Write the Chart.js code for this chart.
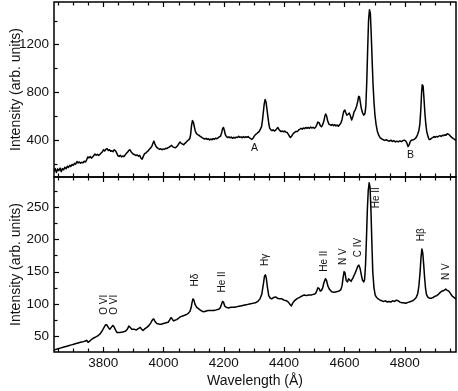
<!DOCTYPE html>
<html>
<head>
<meta charset="utf-8">
<script src="https://cdn.jsdelivr.net/npm/chart.js@4/dist/chart.umd.min.js"></script>
<style>
  html, body { margin: 0; padding: 0; background: #fff; }
  canvas { display: block; }
</style>
</head>
<body>
<canvas id="spectrum-chart" width="458" height="391"></canvas>
<script>
// Tick labels
const waveTicks = [3800, 4000, 4200, 4400, 4600, 4800];
const topTicks = [400, 800, 1200];
const bottomTicks = [50, 100, 150, 200, 250];

// Upper panel spectrum (wavelength in Å, intensity)
const topWave = [
  3637, 3641, 3645, 3649, 3653, 3657, 3661, 3665, 3669, 3673, 3677, 3681, 3685, 3689, 3693, 3697,
  3701, 3705, 3709, 3713, 3717, 3721, 3725, 3729, 3733, 3737, 3741, 3745, 3749, 3753, 3757, 3761,
  3765, 3769, 3773, 3777, 3781, 3785, 3789, 3793, 3797, 3801, 3805, 3809, 3813, 3817, 3821, 3825,
  3829, 3833, 3837, 3841, 3845, 3849, 3853, 3857, 3861, 3865, 3869, 3873, 3877, 3881, 3885, 3889,
  3893, 3897, 3901, 3905, 3909, 3913, 3917, 3921, 3925, 3929, 3933, 3937, 3941, 3945, 3949, 3953,
  3957, 3961, 3965, 3968, 3971, 3975, 3979, 3983, 3987, 3991, 3995, 3999, 4003, 4007, 4011, 4015,
  4019, 4023, 4027, 4031, 4035, 4039, 4043, 4047, 4051, 4055, 4059, 4063, 4067, 4071, 4075, 4079,
  4083, 4087, 4090, 4093, 4096, 4099, 4102, 4105, 4109, 4113, 4117, 4121, 4125, 4129, 4133, 4137,
  4141, 4145, 4149, 4153, 4157, 4161, 4165, 4169, 4173, 4177, 4181, 4185, 4189, 4193, 4196, 4199,
  4202, 4205, 4209, 4213, 4217, 4221, 4225, 4229, 4233, 4237, 4241, 4245, 4249, 4253, 4257, 4261,
  4265, 4269, 4273, 4277, 4281, 4285, 4289, 4293, 4297, 4301, 4305, 4309, 4313, 4317, 4321, 4325,
  4328, 4331, 4334, 4337, 4340, 4343, 4346, 4349, 4352, 4356, 4360, 4364, 4368, 4372, 4376, 4379,
  4382, 4386, 4390, 4394, 4398, 4402, 4406, 4410, 4414, 4418, 4421, 4424, 4428, 4432, 4436, 4440,
  4444, 4448, 4452, 4456, 4460, 4464, 4468, 4472, 4476, 4480, 4484, 4488, 4492, 4496, 4500, 4504,
  4508, 4512, 4516, 4520, 4524, 4528, 4532, 4535, 4538, 4541, 4544, 4548, 4552, 4556, 4560, 4564,
  4568, 4572, 4576, 4580, 4584, 4588, 4592, 4595, 4598, 4601, 4604, 4608, 4612, 4616, 4620, 4624,
  4628, 4632, 4636, 4640, 4644, 4647, 4650, 4653, 4656, 4660, 4664, 4668, 4671, 4674, 4677, 4680,
  4683, 4686, 4689, 4692, 4695, 4698, 4701, 4705, 4709, 4714, 4719, 4724, 4729, 4734, 4739, 4744,
  4749, 4754, 4759, 4764, 4769, 4774, 4779, 4784, 4789, 4794, 4799, 4803, 4807, 4811, 4815, 4819,
  4823, 4827, 4831, 4835, 4839, 4843, 4847, 4850, 4853, 4856, 4858, 4861, 4864, 4867, 4870, 4873,
  4877, 4881, 4885, 4889, 4893, 4897, 4901, 4905, 4909, 4913, 4917, 4921, 4925, 4929, 4933, 4937,
  4941, 4945, 4949, 4953, 4957, 4961, 4965, 4969
];
const topFlux = [
  138, 160, 128, 158, 142, 165, 135, 160, 150, 172, 158, 180, 170, 188, 178, 195,
  188, 205, 198, 220, 208, 216, 205, 214, 208, 222, 215, 232, 258, 250, 262, 248,
  258, 270, 282, 272, 280, 270, 278, 290, 300, 318, 308, 322, 328, 312, 318, 305,
  310, 302, 318, 310, 290, 268, 262, 272, 258, 266, 260, 275, 288, 298, 312, 318,
  300, 288, 280, 276, 270, 275, 264, 272, 250, 238, 262, 285, 290, 300, 308, 322,
  332, 345, 372, 392, 370, 348, 335, 328, 322, 326, 318, 325, 322, 330, 328, 335,
  340, 348, 355, 342, 338, 334, 342, 352, 370, 382, 372, 365, 360, 372, 380, 392,
  400, 410, 445, 520, 562, 550, 515, 480, 455, 445, 440, 432, 425, 418, 412, 408,
  414, 405, 410, 400, 408, 402, 412, 406, 415, 410, 418, 425, 432, 460, 495, 505,
  480, 445, 428, 420, 426, 418, 424, 414, 422, 416, 424, 420, 430, 422, 426, 418,
  428, 420, 427, 422, 428, 418, 412, 404, 415, 432, 445, 452, 462, 470, 488, 510,
  560, 630, 700, 738, 720, 660, 600, 540, 500, 485, 478, 485, 475, 482, 495, 505,
  492, 478, 470, 475, 468, 474, 466, 462, 448, 430, 420, 428, 445, 458, 466, 472,
  470, 482, 490, 498, 490, 500, 495, 505, 498, 505, 498, 508, 500, 506, 498, 505,
  525, 550, 545, 520, 510, 528, 560, 598, 618, 600, 565, 535, 528, 522, 530, 520,
  528, 518, 525, 515, 528, 540, 570, 610, 640, 652, 632, 608, 615, 625, 600, 568,
  595, 635, 652, 680, 720, 765, 760, 712, 665, 628, 608, 620, 680, 880, 1150, 1400,
  1490, 1460, 1280, 1060, 860, 720, 615, 530, 475, 438, 418, 408, 402, 396, 402, 394,
  390, 398, 388, 394, 384, 390, 385, 392, 386, 395, 398, 392, 375, 345, 362, 390,
  398, 400, 405, 412, 425, 448, 480, 530, 640, 800, 862, 850, 740, 620, 530, 470,
  430, 404, 405, 415, 420, 428, 422, 430, 425, 432, 436, 430, 440, 436, 444, 440,
  452, 448, 440, 428, 420, 412, 405, 398
];

// Lower panel spectrum
const bottomWave = [
  3637, 3650, 3665, 3680, 3695, 3710, 3724, 3735, 3741, 3745, 3750, 3756, 3763, 3770, 3779, 3785,
  3790, 3797, 3803, 3808, 3812, 3817, 3822, 3827, 3832, 3836, 3841, 3846, 3855, 3865, 3874, 3880,
  3885, 3890, 3895, 3903, 3910, 3916, 3923, 3928, 3932, 3938, 3945, 3952, 3958, 3964, 3968, 3972,
  3978, 3986, 3994, 4000, 4008, 4016, 4020, 4025, 4029, 4033, 4038, 4044, 4050, 4055, 4060, 4066,
  4072, 4077, 4083, 4088, 4092, 4095, 4098, 4101, 4105, 4110, 4116, 4124, 4132, 4140, 4149, 4158,
  4166, 4175, 4183, 4188, 4192, 4196, 4199, 4203, 4208, 4216, 4225, 4235, 4245, 4255, 4265, 4275,
  4285, 4295, 4305, 4313, 4320, 4326, 4331, 4335, 4338, 4341, 4345, 4349, 4354, 4359, 4365, 4372,
  4378, 4384, 4392, 4400, 4408, 4414, 4420, 4424, 4428, 4434, 4442, 4450, 4458, 4466, 4474, 4482,
  4490, 4498, 4504, 4508, 4512, 4516, 4520, 4524, 4528, 4532, 4537, 4541, 4545, 4550, 4558, 4566,
  4574, 4582, 4588, 4592, 4596, 4599, 4602, 4606, 4610, 4614, 4618, 4622, 4628, 4634, 4640, 4645,
  4648, 4652, 4656, 4660, 4664, 4667, 4670, 4673, 4676, 4679, 4682, 4685, 4688, 4691, 4694, 4698,
  4702, 4707, 4712, 4718, 4724, 4730, 4736, 4742, 4748, 4754, 4760, 4766, 4772, 4778, 4784, 4790,
  4796, 4802, 4808, 4814, 4820, 4826, 4832, 4838, 4843, 4847, 4851, 4854, 4857, 4860, 4863, 4866,
  4869, 4872, 4876, 4882, 4888, 4894, 4900, 4906, 4912, 4918, 4924, 4930, 4936, 4941, 4946, 4952,
  4958, 4964, 4969
];
const bottomFlux = [
  29, 31, 33, 35, 37, 39, 41, 42, 43, 44, 41, 43, 46, 48, 50, 52,
  54, 59, 64, 68, 68, 64, 61, 64, 67, 65, 60, 56, 56, 57, 58, 61,
  66, 64, 61, 61, 60, 62, 64, 61, 59, 62, 64, 67, 71, 76, 77, 73,
  70, 69, 69, 70, 71, 72, 75, 79, 77, 74, 75, 76, 78, 80, 81, 82,
  83, 84, 86, 89, 95, 103, 108, 106, 99, 95, 93, 90, 88, 89, 90, 90,
  90, 91, 92, 94, 99, 104, 103, 97, 95, 94, 95, 95, 96, 97, 98, 99,
  100, 101, 102, 104, 108, 115, 130, 143, 145, 140, 125, 113, 109, 108, 110, 111,
  109, 108, 108, 106, 105, 103, 99, 97, 101, 105, 108, 110, 112, 114, 113, 114,
  114, 115, 116, 120, 125, 124, 120, 121, 125, 133, 139, 136, 128, 123, 119, 118,
  119, 120, 122, 128, 142, 150, 148, 136, 134, 139, 137, 135, 140, 146, 153, 159,
  160, 155, 145, 137, 134, 138, 160, 200, 245, 275, 287, 280, 245, 195, 150, 125,
  114, 110, 108, 106, 105, 104, 105, 103, 104, 103, 105, 104, 106, 105, 103, 102,
  102, 101, 102, 103, 104, 105, 107, 110, 116, 128, 150, 172, 185, 178, 160, 140,
  124, 115, 111, 109, 109, 110, 112, 113, 115, 118, 120, 121, 123, 121, 120, 116,
  112, 110, 108
];

// Line identifications in the lower panel (label, wavelength, intensity level of label centre)
const lineNames = ['O VI', 'O VI', 'Hδ', 'He II', 'Hγ', 'He II', 'N V', 'C IV', 'He II', 'Hβ', 'N V'];
const lineWave = [3802, 3838, 4104, 4196, 4339, 4534, 4595, 4645, 4705, 4855, 4938];
const lineLevel = [99, 99, 137, 134, 168, 166, 173, 187, 264, 207, 150];

// Markers in the upper panel
const markNames = ['A', 'B'];
const markWave = [4302, 4819];
const markLevel = [331, 275];

const FONT = "'Liberation Sans', Arial, Helvetica, sans-serif";
const INK = '#111';

// Frames and inward ticks for both panels, plus the text labels
const panelDecor = {
  id: 'panelDecor',
  afterDatasetsDraw(chart) {
    const { ctx, chartArea, scales } = chart;
    const x = scales.x;
    const left = chartArea.left;
    const right = chartArea.right;

    function seg(x1, y1, x2, y2) {
      ctx.beginPath();
      ctx.moveTo(x1, y1);
      ctx.lineTo(x2, y2);
      ctx.stroke();
    }

    ctx.save();
    ctx.strokeStyle = '#000';
    ctx.lineWidth = 1.2;

    const panels = [
      { y: scales.yTop, step: 200, major: 400 },
      { y: scales.yBot, step: 25, major: 50 }
    ];
    panels.forEach(p => {
      const y = p.y;
      for (let w = 3650; w < x.max; w += 50) {
        const px = Math.round(x.getPixelForValue(w)) + 0.5;
        const len = w % 200 === 0 ? 5 : 3.5;
        seg(px, y.top, px, y.top + len);
        seg(px, y.bottom, px, y.bottom - len);
      }
      for (let v = Math.ceil(y.min / p.step) * p.step; v < y.max; v += p.step) {
        if (v <= y.min) continue;
        const py = Math.round(y.getPixelForValue(v)) + 0.5;
        const len = v % p.major === 0 ? 5 : 3.5;
        seg(left, py, left + len, py);
      }
    });

    ctx.lineWidth = 1.5;
    panels.forEach(p => {
      ctx.strokeRect(left, p.y.top, right - left, p.y.bottom - p.y.top);
    });

    // rotated line identifications
    ctx.fillStyle = INK;
    ctx.font = '10px ' + FONT;
    ctx.textAlign = 'center';
    ctx.textBaseline = 'middle';
    lineNames.forEach((name, i) => {
      const px = x.getPixelForValue(lineWave[i]);
      const py = scales.yBot.getPixelForValue(lineLevel[i]);
      ctx.save();
      ctx.translate(px, py);
      ctx.rotate(-Math.PI / 2);
      ctx.fillText(name, 0, 0);
      ctx.restore();
    });

    ctx.font = '10.5px ' + FONT;
    markNames.forEach((name, i) => {
      ctx.fillText(name, x.getPixelForValue(markWave[i]), scales.yTop.getPixelForValue(markLevel[i]));
    });
    ctx.restore();
  }
};

function toPoints(xs, ys) {
  return xs.map((v, i) => ({ x: v, y: ys[i] }));
}

function fixedTicks(values) {
  return function(axis) {
    axis.ticks = values.map(v => ({ value: v }));
  };
}

const tickFont = { family: FONT, size: 13.5 };
const titleFont = { family: FONT, size: 14 };

const yCommon = {
  type: 'linear',
  position: 'left',
  stack: 'panels',
  stackWeight: 1,
  grid: { display: false, drawTicks: false },
  border: { display: false },
  afterFit(axis) {
    axis.width = 54;
    axis.paddingTop = 0;
    axis.paddingBottom = 0;
  }
};

// tiny tension keeps the segments straight but avoids the pixel-column fast path
const lineStyle = {
  borderColor: '#000',
  borderWidth: 1.5,
  borderJoinStyle: 'round',
  borderCapStyle: 'round',
  pointRadius: 0,
  tension: 0.0001
};

new Chart(document.getElementById('spectrum-chart'), {
  type: 'line',
  data: {
    datasets: [
      Object.assign({ data: toPoints(bottomWave, bottomFlux), yAxisID: 'yBot' }, lineStyle),
      Object.assign({ data: toPoints(topWave, topFlux), yAxisID: 'yTop' }, lineStyle)
    ]
  },
  options: {
    responsive: false,
    animation: false,
    events: [],
    layout: { padding: { top: 2, right: 2, left: 0, bottom: 0 } },
    plugins: {
      legend: { display: false },
      tooltip: { enabled: false }
    },
    scales: {
      x: {
        type: 'linear',
        min: 3637,
        max: 4970,
        grid: { display: false, drawTicks: false },
        border: { display: false },
        afterBuildTicks: fixedTicks(waveTicks),
        afterFit(axis) {
          axis.height = 39;
          axis.paddingLeft = 0;
          axis.paddingRight = 0;
        },
        ticks: {
          color: INK,
          font: tickFont,
          padding: 3,
          maxRotation: 0,
          autoSkip: false,
          callback: v => String(v)
        },
        title: {
          display: true,
          text: 'Wavelength (Å)',
          color: INK,
          font: titleFont,
          padding: { top: 0, bottom: 1 }
        }
      },
      yBot: Object.assign({}, yCommon, {
        min: 26,
        max: 296,
        afterBuildTicks: fixedTicks(bottomTicks),
        ticks: { color: INK, font: tickFont, padding: 5, callback: v => String(v) },
        title: { display: true, text: 'Intensity (arb. units)', color: INK, font: titleFont, padding: { top: 8, bottom: 0 } }
      }),
      yTop: Object.assign({}, yCommon, {
        min: 90,
        max: 1555,
        afterBuildTicks: fixedTicks(topTicks),
        ticks: { color: INK, font: tickFont, padding: 5, callback: v => String(v) },
        title: { display: true, text: 'Intensity (arb. units)', color: INK, font: titleFont, padding: { top: 8, bottom: 0 } }
      })
    }
  },
  plugins: [panelDecor]
});
</script>
</body>
</html>
